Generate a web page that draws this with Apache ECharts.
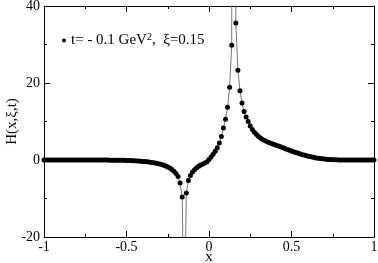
<!DOCTYPE html>
<html>
<head>
<meta charset="utf-8">
<script src="https://cdn.jsdelivr.net/npm/echarts@6/dist/echarts.min.js"></script>
<style>
  html, body { margin: 0; padding: 0; background: #fff; }
  #chart { width: 378px; height: 263px; }
</style>
</head>
<body>
<div id="chart"></div>
<script>
// x grid of the GPD points
const xValues = [
  -1, -0.9875, -0.975, -0.9625, -0.95, -0.9375, -0.925, -0.9125, -0.9, -0.8875,
  -0.875, -0.8625, -0.85, -0.8375, -0.825, -0.8125, -0.8, -0.7875, -0.775, -0.7625,
  -0.75, -0.7375, -0.725, -0.7125, -0.7, -0.6875, -0.675, -0.6625, -0.65, -0.6375,
  -0.625, -0.6125, -0.6, -0.5875, -0.575, -0.5625, -0.55, -0.5375, -0.525, -0.5125,
  -0.5, -0.4875, -0.475, -0.4625, -0.45, -0.4375, -0.425, -0.4125, -0.4, -0.3875,
  -0.375, -0.3625, -0.35, -0.3375, -0.325, -0.3125, -0.3, -0.2875, -0.275, -0.2625,
  -0.25, -0.2375, -0.225, -0.2125, -0.2, -0.1875, -0.175, -0.1625, -0.15, -0.1375,
  -0.125, -0.1125, -0.1, -0.0875, -0.075, -0.0625, -0.05, -0.0375, -0.025, -0.0125,
  0,
  0.0125, 0.025, 0.0375, 0.05, 0.0625, 0.075, 0.0875, 0.1, 0.1125, 0.125,
  0.1375, 0.15, 0.1625, 0.175, 0.1875, 0.2, 0.2125, 0.225, 0.2375, 0.25,
  0.2625, 0.275, 0.2875, 0.3, 0.3125, 0.325, 0.3375, 0.35, 0.3625, 0.375,
  0.3875, 0.4, 0.4125, 0.425, 0.4375, 0.45, 0.4625, 0.475, 0.4875, 0.5,
  0.5125, 0.525, 0.5375, 0.55, 0.5625, 0.575, 0.5875, 0.6, 0.6125, 0.625,
  0.6375, 0.65, 0.6625, 0.675, 0.6875, 0.7, 0.7125, 0.725, 0.7375, 0.75,
  0.7625, 0.775, 0.7875, 0.8, 0.8125, 0.825, 0.8375, 0.85, 0.8625, 0.875,
  0.8875, 0.9, 0.9125, 0.925, 0.9375, 0.95, 0.9625, 0.975, 0.9875, 1
];

// H(x, xi, t)
const hValues = [
  0, 0, 0, 0, 0, 0, 0, 0, 0, 0,
  0, 0, 0, 0, 0, 0, 0, 0, 0, 0,
  0, -0.01, -0.01, -0.01, -0.01, -0.015, -0.02, -0.02, -0.025, -0.025,
  -0.03, -0.03, -0.035, -0.04, -0.045, -0.05, -0.06, -0.07, -0.08, -0.09,
  -0.11, -0.13, -0.15, -0.18, -0.21, -0.24, -0.28, -0.32, -0.37, -0.42,
  -0.48, -0.55, -0.62, -0.7, -0.8, -0.92, -1.05, -1.2, -1.38, -1.58,
  -1.82, -2.1, -2.45, -2.9, -3.5, -4.3, -6.0, -9.6, -45, -8.6,
  -5.3, -4.0, -3.1, -2.5, -2.0, -1.6, -1.3, -1.05, -0.8, -0.45,
  0.1,
  0.8, 1.5, 2.3, 3.2, 4.4, 6.1, 8.3, 10.6, 13.7, 18.9,
  29.8, 300, 35.6, 23.3, 18.0, 14.8, 12.6, 11.2, 10.0, 8.8,
  7.9, 7.2, 6.6, 6.1, 5.7, 5.35, 5.05, 4.8, 4.55, 4.35,
  4.15, 3.95, 3.75, 3.55, 3.35, 3.15, 2.95, 2.75, 2.55, 2.35,
  2.15, 1.95, 1.8, 1.62, 1.46, 1.3, 1.15, 1.0, 0.88, 0.76,
  0.65, 0.55, 0.46, 0.38, 0.31, 0.25, 0.2, 0.15, 0.11, 0.08,
  0.06, 0.04, 0.03, 0.02, 0.01, 0, 0, 0, 0, 0,
  0, 0, 0, 0, 0, 0, 0, 0, 0, 0
];

const seriesName = 't= - 0.1 GeV2,  ξ=0.15';

const chart = echarts.init(document.getElementById('chart'));
const font = '"Liberation Serif", "DejaVu Serif", serif';

const frameAxis = {
  axisLine: { show: true, onZero: false, lineStyle: { color: '#000', width: 1 } },
  axisTick: { show: true, inside: true, length: 6, lineStyle: { color: '#000' } },
  minorTick: { show: true, splitNumber: 2, length: 3, lineStyle: { color: '#000' } },
  splitLine: { show: false },
};

const option = {
  animation: false,
  grid: { left: 44, right: 4, top: 6, bottom: 26, containLabel: false, outerBoundsMode: 'none' },
  legend: {
    left: 57,
    top: 27,
    icon: 'circle',
    itemWidth: 4,
    itemHeight: 4,
    itemGap: 0,
    data: [seriesName],
    formatter: function () {
      return '{a|t= - 0.1 GeV}{s|2}{a|,  ξ=0.15}';
    },
    textStyle: {
      rich: {
        a: { fontFamily: font, fontSize: 15, lineHeight: 17, color: '#000' },
        s: { fontFamily: font, fontSize: 10, lineHeight: 10, color: '#000', verticalAlign: 'top' }
      }
    }
  },
  xAxis: [
    Object.assign({}, frameAxis, {
      type: 'value', min: -1, max: 1, interval: 0.5,
      name: 'x', nameLocation: 'middle', nameGap: 13, nameMoveOverlap: false,
      nameTextStyle: { fontFamily: font, fontSize: 15, color: '#000' },
      axisLabel: { margin: 3, fontFamily: font, fontSize: 14, color: '#000' }
    }),
    Object.assign({}, frameAxis, {
      type: 'value', position: 'top', min: -1, max: 1, interval: 0.5,
      axisLabel: { show: false }
    })
  ],
  yAxis: [
    Object.assign({}, frameAxis, {
      type: 'value', min: -20, max: 40, interval: 20,
      name: 'H(x,ξ,t)', nameLocation: 'middle', nameGap: 24, nameRotate: 90, nameMoveOverlap: false,
      nameTextStyle: { fontFamily: font, fontSize: 15, color: '#000' },
      axisLabel: { margin: 4, fontFamily: font, fontSize: 14, color: '#000' }
    }),
    Object.assign({}, frameAxis, {
      type: 'value', position: 'right', min: -20, max: 40, interval: 20,
      axisLabel: { show: false }
    })
  ],
  series: [{
    name: seriesName,
    type: 'line',
    data: xValues.map((x, i) => [x, hValues[i]]),
    symbol: 'circle',
    symbolSize: 5,
    showAllSymbol: true,
    clip: true,
    itemStyle: { color: '#000' },
    lineStyle: { color: '#777', width: 1 }
  }]
};

chart.setOption(option);
</script>
</body>
</html>
